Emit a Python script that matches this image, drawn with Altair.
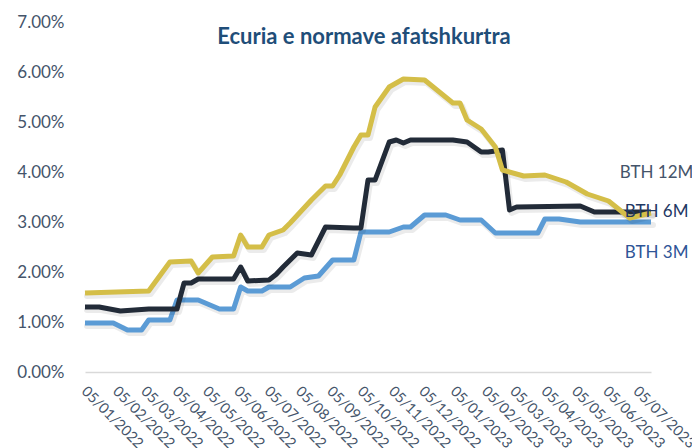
import altair as alt
import pandas as pd
import numpy as np

START = "2022-01-05"

# week index (weekly observations from 05/01/2022) and rates in %
w12 = [0, 9, 12, 15, 16, 18, 21, 22, 23, 25, 26, 28, 29, 32, 34, 35, 36, 38, 39, 40, 41, 43, 45, 48,
       52, 53, 54, 56, 58, 59, 62, 65, 68, 71, 74, 77, 80]
v12 = [1.58, 1.62, 2.20, 2.22, 1.98, 2.30, 2.32, 2.74, 2.50, 2.50, 2.74, 2.84, 2.98, 3.44, 3.72, 3.72,
       3.94, 4.50, 4.74, 4.74, 5.30, 5.70, 5.86, 5.84, 5.38, 5.38, 5.04, 4.86, 4.50, 4.04, 3.92, 3.94,
       3.80, 3.56, 3.42, 3.08, 3.18]

w6 = [0, 2, 5, 9, 13, 14, 15, 16, 21, 22, 23, 26, 27, 28, 30, 32, 34, 38, 39, 40, 41, 43, 44, 45, 46,
      52, 54, 56, 57, 59, 60, 61, 70, 72, 80]
v6 = [1.30, 1.30, 1.22, 1.26, 1.26, 1.78, 1.78, 1.86, 1.86, 2.10, 1.82, 1.84, 1.95, 2.10, 2.38, 2.34,
      2.90, 2.88, 2.88, 3.84, 3.84, 4.60, 4.64, 4.58, 4.64, 4.64, 4.60, 4.40, 4.40, 4.44, 3.24, 3.30,
      3.32, 3.20, 3.20]

w3 = [0, 4, 6, 8, 9, 12, 13, 16, 19, 21, 22, 23, 25, 26, 29, 31, 33, 35, 38, 39, 43, 45, 46, 48, 51,
      53, 56, 58, 60, 64, 65, 67, 70, 80]
v3 = [0.98, 0.98, 0.84, 0.84, 1.04, 1.04, 1.44, 1.44, 1.26, 1.26, 1.70, 1.62, 1.62, 1.70, 1.70, 1.88,
      1.92, 2.24, 2.24, 2.80, 2.80, 2.90, 2.90, 3.14, 3.14, 3.04, 3.04, 2.78, 2.78, 2.78, 3.06, 3.06,
      3.00, 3.00]

series_names = ["BTH 3M", "BTH 6M", "BTH 12M"]
series_colors = ["#5B9BD5", "#222B38", "#D4BE48"]
label_colors = ["#2F5597", "#1F3864", "#44546A"]
label_dates = ["2023-06-23", "2023-06-23", "2023-06-18"]
label_values = [2.38, 3.20, 3.98]

title_text = "Ecuria e normave afatshkurtra"
tick_dates = ["2022-%02d-05" % m for m in range(1, 13)] + ["2023-%02d-05" % m for m in range(1, 8)]


def to_dates(weeks):
    d = pd.Timestamp(START) + pd.to_timedelta(7 * np.array(weeks), unit="D")
    return [x.strftime("%Y-%m-%d") for x in d]


frames = []
for name, w, v in zip(series_names, [w3, w6, w12], [v3, v6, v12]):
    frames.append(pd.DataFrame({"date": to_dates(w), "rate": np.array(v) / 100, "series": name}))
df = pd.concat(frames, ignore_index=True)

labels = pd.DataFrame({
    "date": label_dates,
    "rate": np.array(label_values) / 100,
    "series": series_names,
    "color": label_colors,
})


def utc_ms(s):
    return int(pd.Timestamp(s, tz="UTC").value // 10**6)


tick_vals = [utc_ms(s) for s in tick_dates]

FONT = "Lato"
AX = "#44546A"

x_enc = alt.X(
    "date:T",
    scale=alt.Scale(type="utc", domain=[utc_ms("2022-01-05"), utc_ms("2023-07-19")]),
    axis=alt.Axis(values=tick_vals, format="%d/%m/%Y", labelAngle=45, labelAlign="left",
                  labelBaseline="top", labelPadding=12, labelOffset=3, ticks=False, tickSize=0,
                  grid=False, domainColor="#D9D9D9", domainWidth=1.5, labelColor=AX,
                  labelFont=FONT, labelFontSize=14.5, title=None, labelOverlap=False,
                  labelBound=False, labelFlush=False, labelSeparation=0),
)
y_enc = alt.Y(
    "rate:Q",
    scale=alt.Scale(domain=[0, 0.07], nice=False),
    axis=alt.Axis(values=[0, 0.01, 0.02, 0.03, 0.04, 0.05, 0.06, 0.07], format=".2%",
                  ticks=False, tickSize=0, domain=False, grid=False, labelPadding=21,
                  labelColor=AX, labelFont=FONT, labelFontSize=17, title=None),
)

layers = []
for name, col in zip(series_names, series_colors):
    base = alt.Chart(df).transform_filter(alt.datum.series == name)
    shadow = base.mark_line(color="#000000", opacity=0.08, strokeWidth=6, xOffset=2, yOffset=3,
                            strokeJoin="round", strokeCap="round").encode(x=x_enc, y=y_enc)
    line = base.mark_line(color=col, strokeWidth=5, strokeJoin="round", strokeCap="butt").encode(
        x=x_enc, y=y_enc)
    layers += [shadow, line]

text = alt.Chart(labels).mark_text(align="left", baseline="middle", font=FONT, fontSize=17).encode(
    x=x_enc, y=y_enc, text="series:N", color=alt.Color("color:N", scale=None))
layers.append(text)

chart = alt.layer(*layers).properties(
    width=566, height=350,
    autosize=alt.AutoSizeParams(type="none"),
    padding={"left": 77, "top": 14, "right": 41, "bottom": 76},
    title=alt.TitleParams(title_text, font=FONT, fontSize=22, fontWeight="bold", color="#1F4E79",
                          anchor="middle", baseline="middle", offset=0, dy=46, dx=-4),
).configure_view(stroke=None).configure_axis(labelOverlap=False)

chart.save("out.html", embed_options={"renderer": "svg", "actions": False})
